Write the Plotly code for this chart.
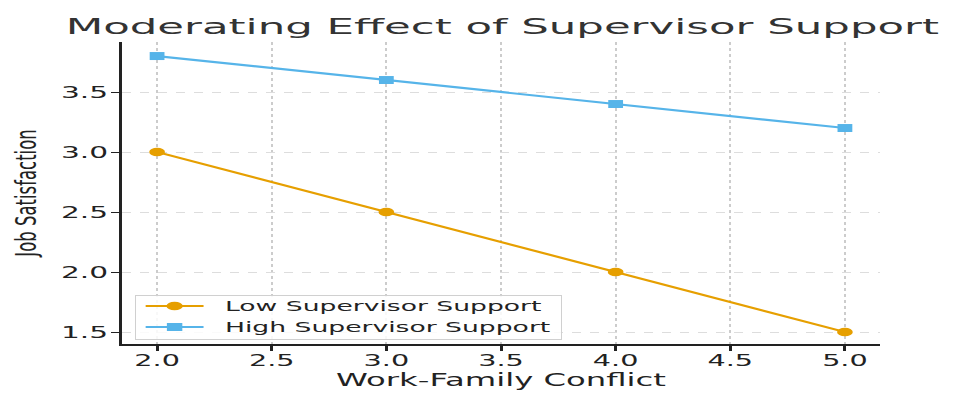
import plotly.graph_objects as go

x_vals = [2.0, 3.0, 4.0, 5.0]
low_support = [3.0, 2.5, 2.0, 1.5]
high_support = [3.8, 3.6, 3.4, 3.2]
x_ticks = [2.0, 2.5, 3.0, 3.5, 4.0, 4.5, 5.0]
y_ticks = [1.5, 2.0, 2.5, 3.0, 3.5]

fig = go.Figure()
fig.add_trace(go.Scatter(x=x_vals, y=low_support, mode="lines+markers", name="Low Supervisor Support",
                         line=dict(color="#E69F00", width=2.2),
                         marker=dict(symbol="circle", size=8.5, color="#E69F00")))
fig.add_trace(go.Scatter(x=x_vals, y=high_support, mode="lines+markers", name="High Supervisor Support",
                         line=dict(color="#56B4E9", width=2.2),
                         marker=dict(symbol="square", size=8, color="#56B4E9")))

font_main = "DejaVu Sans"
fig.update_layout(
    width=955, height=399,
    margin=dict(l=122, r=75, t=42, b=55),
    plot_bgcolor="white", paper_bgcolor="white",
    title=dict(text="Moderating Effect of Supervisor Support", x=0.526, xanchor="center",
               y=0.915, yanchor="bottom", font=dict(family=font_main, size=21, color="#333333")),
    xaxis=dict(range=[1.847, 5.153], tickvals=x_ticks, ticktext=[f"{v:.1f}" for v in x_ticks],
               automargin=False,
               showline=True, linecolor="#222222", linewidth=1.6, ticks="outside", ticklen=5,
               tickcolor="#222222", tickwidth=2.5, ticklabelstandoff=-3,
               showgrid=True, gridcolor="#cccccc", griddash="dot", gridwidth=2, zeroline=False,
               tickfont=dict(family=font_main, size=15.5, color="#222222"),
               title=dict(text="Work-Family Conflict", standoff=1,
                          font=dict(family=font_main, size=17, color="#222222"))),
    yaxis=dict(range=[1.4, 3.917], tickvals=y_ticks, ticktext=[f"{v:.1f}" for v in y_ticks],
               automargin=False,
               showline=True, linecolor="#222222", linewidth=2.6, ticks="outside", ticklen=8,
               tickcolor="#222222", tickwidth=1.3,
               showgrid=True, gridcolor="#dddddd", griddash="dash", gridwidth=1, zeroline=False,
               tickfont=dict(family=font_main, size=16, color="#222222"),
               title=dict(text="Job Satisfaction", standoff=42,
                          font=dict(family=font_main, size=16.5, color="#222222"))),
    legend=dict(x=0.018, y=0.025, xanchor="left", yanchor="bottom",
                bgcolor="rgba(255,255,255,0.85)", bordercolor="#d0d0d0", borderwidth=1,
                font=dict(family=font_main, size=14, color="#222222"),
                tracegroupgap=0),
    showlegend=True,
)

# Emulate the horizontally stretched rendering of the reference: widen text and markers in x only.
post = r"""
document.body.style.margin = '0';
var gd = document.getElementById('{plot_id}');
function stretch(el, k) {
  var x = parseFloat(el.getAttribute('x')) || 0, y = parseFloat(el.getAttribute('y')) || 0;
  var tr = el.getAttribute('transform') || '';
  var m = el.transform.baseVal.consolidate();
  var px = x, py = y;
  if (m) { var mm = m.matrix; px = mm.a * x + mm.c * y + mm.e; py = mm.b * x + mm.d * y + mm.f; }
  el.setAttribute('transform', 'translate(' + px + ',' + py + ') scale(' + k + ',1) translate(' + (-px) + ',' + (-py) + ') ' + tr);
}
function all(sel, k) { gd.querySelectorAll(sel).forEach(function (t) { stretch(t, k); }); }
all('.gtitle', 2.07);
all('.g-xtitle text', 1.9);
all('.g-ytitle text', 1.75);
all('.xtick text', 1.85);
all('.ytick text', 1.85);
gd.querySelectorAll('.scatterlayer path.point').forEach(function (p) {
  var tr = p.getAttribute('transform') || '';
  p.setAttribute('transform', tr + ' scale(1.85,1)');
});
var lg = gd.querySelector('g.legend');
if (lg) {
  lg.querySelectorAll('[clip-path]').forEach(function (e) { e.removeAttribute('clip-path'); });
  lg.setAttribute('transform', 'translate(135,295)');
  var rows = [11, 32];
  lg.querySelectorAll('g.traces').forEach(function (g, i) {
    g.setAttribute('transform', 'translate(1,' + rows[i] + ')');
  });
  lg.querySelectorAll('.legendlines, .legendsymbols').forEach(function (g) {
    g.setAttribute('transform', 'scale(1.93,1)');
  });
  lg.querySelectorAll('text.legendtext').forEach(function (t) {
    t.setAttribute('x', 89);
    t.querySelectorAll('tspan[x]').forEach(function (s) { s.setAttribute('x', 89); });
    stretch(t, 1.9);
  });
  var bg = lg.querySelector('rect.bg');
  var lr = bg.getBoundingClientRect();
  var maxR = lr.left;
  lg.querySelectorAll('text.legendtext').forEach(function (t) {
    var r = t.getBoundingClientRect(); if (r.right > maxR) maxR = r.right;
  });
  bg.setAttribute('width', (maxR - lr.left + 11));
  bg.setAttribute('height', 44);
}
"""
fig.write_html("out.html", post_script=post, config={"displayModeBar": False})
